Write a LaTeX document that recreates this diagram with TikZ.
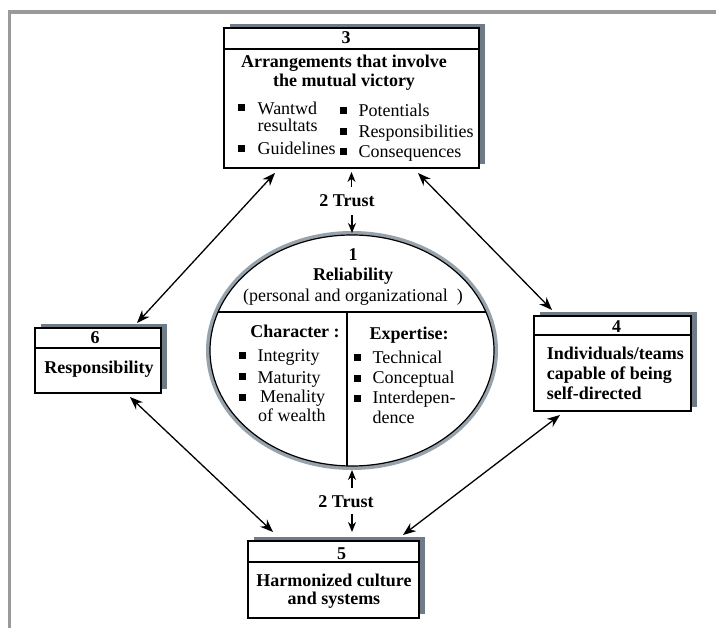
\documentclass[tikz,border=0pt]{standalone}
\usepackage{fontspec}
\setmainfont{Liberation Serif}
\usepackage{tikz}
\usetikzlibrary{arrows.meta,positioning,shapes.geometric,shadows,calc}
\definecolor{slate}{HTML}{6F7C88}
\definecolor{ringgray}{HTML}{98A2AB}
\definecolor{framegray}{HTML}{9A9A9A}
\tikzset{
  cardbox/.style={
    rectangle, draw=black, fill=white, line width=1.6pt,
    inner sep=0pt, outer sep=0pt,
    drop shadow={shadow xshift=6pt, shadow yshift=4pt, fill=slate, opacity=1}
  },
  headline/.style={line width=1.2pt},
  ringnode/.style={
    ellipse, draw=ringgray, line width=4pt,
    inner sep=0pt, outer sep=0pt
  },
  biarrow/.style={
    {Stealth[length=13pt,width=10pt]}-{Stealth[length=13pt,width=10pt]}, line width=1.3pt
  },
  onearrow/.style={
    -{Stealth[length=10pt,width=8pt]}, line width=1.3pt
  },
  bul/.style={rectangle, fill=black, minimum size=7pt, inner sep=0pt},
  txt/.style={font=\fontsize{18}{20}\selectfont, inner sep=0pt, anchor=base west},
  ctxt/.style={font=\fontsize{18}{20}\selectfont, inner sep=0pt, anchor=base},
  btxt/.style={font=\fontsize{18}{20}\selectfont\bfseries, inner sep=0pt, anchor=base},
  bltxt/.style={font=\fontsize{18}{20}\selectfont\bfseries, inner sep=0pt, anchor=base west},
}
\begin{document}
\begin{tikzpicture}[x=1pt, y=-1pt]
\useasboundingbox (0,0) rectangle (716,628);

% frame
\draw[framegray, line width=3.5pt] (716,12) -- (9.5,12) -- (9.5,628);

% boxes
\node[cardbox, minimum width=255pt, minimum height=140pt] (b3) at (351.5,98) {};
\node[cardbox, minimum width=126pt, minimum height=65pt] (b6) at (98,360.5) {};
\node[cardbox, minimum width=157pt, minimum height=95pt] (b4) at (612.5,363.5) {};
\node[cardbox, minimum width=171pt, minimum height=77pt] (b5) at (333.5,579.5) {};

\draw[headline] ([yshift=-21pt]b3.north west) -- ([yshift=-21pt]b3.north east);
\draw[headline] ([yshift=-20pt]b6.north west) -- ([yshift=-20pt]b6.north east);
\draw[headline] ([yshift=-19pt]b4.north west) -- ([yshift=-19pt]b4.north east);
\draw[headline] ([yshift=-21pt]b5.north west) -- ([yshift=-21pt]b5.north east);

% box 3
\node[btxt] (n3) at (346,44) {3};
\node[btxt] (arrA) at (344,68) {Arrangements that involve};
\node[btxt] (arrB) at (344,87) {the mutual victory};
\node[bul] (q1) at (241.7,108) {};
\node[txt] (want) at (257.5,115) {Wantwd};
\node[txt] (resul) at (257.5,131.5) {resultats};
\node[bul] (q2) at (241.7,149) {};
\node[txt] (guide) at (257.5,155) {Guidelines};
\node[bul] (q3) at (343.3,110.7) {};
\node[txt] (poten) at (358.3,117) {Potentials};
\node[bul] (q4) at (343.3,131.7) {};
\node[txt] (respo) at (358.3,138) {Responsibilities};
\node[bul] (q5) at (343.3,151.7) {};
\node[txt] (conse) at (358.3,158) {Consequences};

% box 6
\node[btxt] (n6) at (95,343.3) {6};
\node[btxt] (resp) at (99,374) {Responsibility};

% box 4
\node[btxt] (n4) at (616.7,333) {4};
\node[bltxt] (indA) at (546.7,360) {Individuals/teams};
\node[bltxt] (indB) at (546.7,379.3) {capable of being};
\node[bltxt] (indC) at (546.7,399.3) {self-directed};

% box 5
\node[btxt] (n5) at (341.7,559.3) {5};
\node[btxt] (harA) at (334,586.7) {Harmonized culture};
\node[btxt] (harB) at (334,605) {and systems};

% reliability ellipse
\node[ringnode, minimum width=288pt, minimum height=235pt] (rel) at (352,350.5) {};
\draw[line width=1.2pt] (rel.center) ellipse [x radius=142pt, y radius=115.5pt];
\begin{scope}
  \clip (rel.center) ellipse [x radius=142pt, y radius=115.5pt];
  \draw[line width=1.2pt] (200,312) -- (500,312);
  \draw[line width=1.2pt] (347,312) -- (347,480);
\end{scope}

\node[btxt] (n1) at (353,261) {1};
\node[btxt] (relia) at (353,281) {Reliability};
\node[ctxt] (perso) at (353,302) {(personal and organizational\ \ )};
\node[btxt] (chara) at (295,338) {Character :};
\node[btxt] (exper) at (409,340) {Expertise:};
\node[bul] (c1) at (242.7,355.7) {};
\node[txt] (integ) at (257.5,362) {Integrity};
\node[bul] (c2) at (242.7,376.7) {};
\node[txt] (matur) at (257.5,383.3) {Maturity};
\node[bul] (c3) at (242.7,397.3) {};
\node[txt] (menal) at (260,403) {Menality};
\node[txt] (wealt) at (258,422) {of wealth};
\node[bul] (x1) at (357.3,357.7) {};
\node[txt] (techn) at (372.5,364) {Technical};
\node[bul] (x2) at (357.3,379) {};
\node[txt] (conce) at (372.5,384) {Conceptual};
\node[bul] (x3) at (357.3,399) {};
\node[txt] (interA) at (372.5,403.5) {Interdepen-};
\node[txt] (interB) at (372.5,423.5) {dence};

% trust labels and arrows
\node[btxt] (trustA) at (347,206.7) {2 Trust};
\node[btxt] (trustB) at (346,507.3) {2 Trust};
\draw[onearrow, shorten <=8pt, shorten >=4pt] (trustA.north -| b3.south) -- (b3.south);
\draw[onearrow, shorten <=8pt] (trustA.south -| rel.north) -- (rel.north);
\draw[onearrow, shorten <=7pt, shorten >=2pt] (trustB.north -| rel.south) -- (rel.south);
\draw[onearrow, shorten <=6pt, shorten >=9pt] (trustB.south -| rel.south) -- (b5.north -| rel.south);

% double arrows between boxes
\draw[biarrow] ([xshift=-76.5pt,yshift=-5pt]b3.south) -- ([xshift=-24pt,yshift=5pt]b6.north east);
\draw[biarrow] ([xshift=66.5pt,yshift=-5pt]b3.south) -- ([xshift=18pt,yshift=6pt]b4.north west);
\draw[biarrow] ([xshift=-31pt,yshift=-4pt]b6.south east) -- ([xshift=25pt,yshift=9pt]b5.north west);
\draw[biarrow] ([xshift=26pt,yshift=-4pt]b4.south west) -- ([xshift=-16pt,yshift=6pt]b5.north east);

\end{tikzpicture}
\end{document}
